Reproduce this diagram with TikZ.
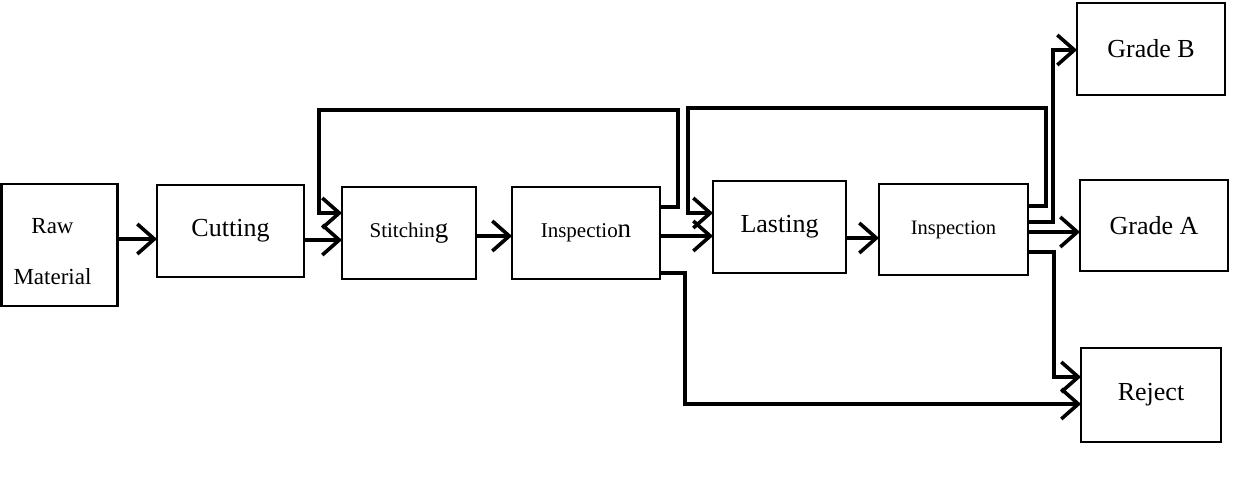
\documentclass[tikz,border=0pt]{standalone}
\usepackage{fontspec}
\setmainfont{Liberation Serif}
\usetikzlibrary{arrows.meta}
\newcommand{\fs}[1]{\fontsize{#1}{#1}\selectfont}
\begin{document}
\begin{tikzpicture}[x=1pt,y=-1pt,
  box/.style={draw,line width=2.4pt,inner sep=0pt,outer sep=0pt,anchor=center,align=center},
  conn/.style={line width=3.6pt,-{Straight Barb[length=17pt,width=30pt]}}]
\useasboundingbox (0,0) rectangle (1234,478);
\node[box,minimum width=116pt,minimum height=122pt] (raw) at (59.5,245)
  {\fs{23}\rule{0pt}{28pt}Raw\hspace*{14pt}\\[34pt]\fs{23}Material\hspace*{14pt}};
\node[box,minimum width=147pt,minimum height=92pt] (cut) at (230.5,231) {\fs{26}Cutting};
\node[box,minimum width=134pt,minimum height=92pt] (sti) at (409,233) {\fs{21}Stitchin{\fs{27}g}};
\node[box,minimum width=148pt,minimum height=92pt] (ins1) at (586,233) {\fs{21}Inspectio{\fs{27}n}};
\node[box,minimum width=133pt,minimum height=92pt] (las) at (779.5,227) {\fs{26}Lasting};
\node[box,minimum width=149pt,minimum height=91pt] (ins2) at (953.5,229.5) {\fs{20.5}Inspection};
\node[box,minimum width=148pt,minimum height=92pt] (gb) at (1151,49) {\fs{26}Grade B};
\node[box,minimum width=148pt,minimum height=91pt] (ga) at (1154,225.5) {\fs{26}Grade A};
\node[box,minimum width=140pt,minimum height=94pt] (rej) at (1151,395) {\fs{26}Reject};
% straight flow
\draw[conn] (raw.east |- 0,239) -- (cut.west |- 0,239);
\draw[conn] (cut.east |- 0,240) -- (sti.west |- 0,240);
\draw[conn] (sti.east |- 0,236) -- (ins1.west |- 0,236);
\draw[conn] (ins1.east |- 0,236) -- (las.west |- 0,236);
\draw[conn] (las.east |- 0,238) -- (ins2.west |- 0,238);
% rework loops
\draw[conn] (ins1.east |- 0,207) -- (678,207) -- (678,110) -- (319,110) -- (319,213) -- (sti.west |- 0,213);
\draw[conn] (ins2.east |- 0,206) -- (1046,206) -- (1046,108) -- (688,108) -- (688,213) -- (las.west |- 0,213);
% outputs
\draw[conn] (ins2.east |- 0,222) -- (1053,222) -- (1053,50) -- (gb.west |- 0,50);
\draw[conn] (ins2.east |- 0,232) -- (ga.west |- 0,232);
\draw[conn] (ins2.east |- 0,252) -- (1054,252) -- (1054,377) -- (rej.west |- 0,377);
\draw[conn] (ins1.east |- 0,273) -- (685,273) -- (685,404) -- (rej.west |- 0,404);
\end{tikzpicture}
\end{document}
